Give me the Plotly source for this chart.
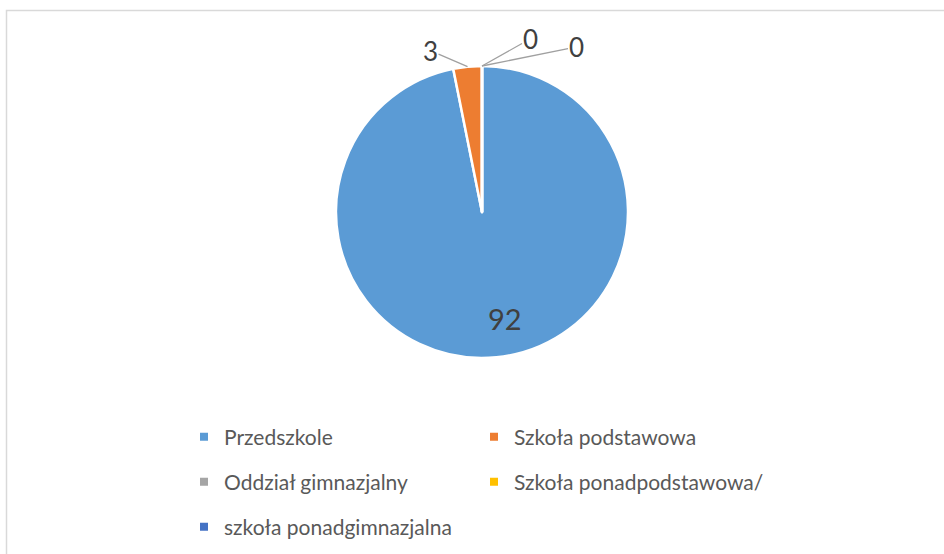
import math
import plotly.graph_objects as go

# Data (last category has no value label)
categories = ['Przedszkole', 'Szkoła podstawowa', 'Oddział gimnazjalny',
              'Szkoła ponadpodstawowa/', 'szkoła ponadgimnazjalna']
values = [92, 3, 0, 0, None]
colors = ['#5B9BD5', '#ED7D31', '#A5A5A5', '#FFC000', '#4472C4']

W, H = 944, 554
FONT = 'Lato, Open Sans, sans-serif'

# pie geometry in pixels
cx, cy, R = 482, 212, 146

pie_vals = [v or 0 for v in values]

fig = go.Figure(go.Pie(
    labels=categories,
    values=pie_vals,
    sort=False,
    direction='clockwise',
    rotation=0,
    marker=dict(colors=colors, line=dict(color='white', width=2.5)),
    textinfo='none',
    domain=dict(x=[(cx - R) / W, (cx + R) / W], y=[1 - (cy + R) / H, 1 - (cy - R) / H]),
    showlegend=False,
    hoverinfo='label+value',
))

# legend entries: two per row, like the original
legend_names = ['legend', 'legend2', 'legend3']
for i, cat in enumerate(categories):
    fig.add_trace(go.Scatter(
        x=[None], y=[None], mode='markers', name=cat,
        marker=dict(symbol='square', size=8, color=colors[i]),
        legend=legend_names[i // 2], hoverinfo='skip',
    ))

row_y = [437, 482, 527]
legend_style = dict(
    orientation='h', x=184 / W, xanchor='left', yanchor='middle',
    entrywidth=245, entrywidthmode='pixels',
    font=dict(family=FONT, size=21, color='#595959'),
    bgcolor='rgba(0,0,0,0)', itemclick=False, itemdoubleclick=False,
)
legends = {name: dict(legend_style, y=1 - ry / H) for name, ry in zip(legend_names, row_y)}

# data labels: value text placed from each slice's angle
label_offsets = {1: (-37, -16), 2: (48, -27), 3: (94, -19)}
annotations = []
total = sum(pie_vals)
cum = 0
for i, v in enumerate(pie_vals):
    mid = math.radians((cum + v / 2) / total * 360)
    cum += v
    if values[i] is None:
        continue
    if i == 0:
        rho = 0.73 * R
        px, py = cx + rho * math.sin(mid), cy - rho * math.cos(mid)
        annotations.append(dict(
            x=px / W, y=1 - py / H, xref='paper', yref='paper',
            text=str(values[i]), showarrow=False, xshift=12,
            font=dict(family=FONT, size=29, color='#404040')))
    else:
        px, py = cx + R * math.sin(mid), cy - R * math.cos(mid)
        ax, ay = label_offsets[i]
        annotations.append(dict(
            x=px / W, y=1 - py / H, xref='paper', yref='paper',
            text=str(values[i]), showarrow=True, arrowhead=0,
            arrowwidth=1.3, arrowcolor='#A0A0A0', standoff=0,
            ax=ax, ay=ay, borderpad=0,
            font=dict(family=FONT, size=26, color='#404040')))

fig.update_layout(
    width=W, height=H,
    margin=dict(l=0, r=0, t=0, b=0),
    paper_bgcolor='white',
    plot_bgcolor='white',
    font=dict(family=FONT, color='#595959'),
    xaxis=dict(visible=False),
    yaxis=dict(visible=False),
    annotations=annotations,
    shapes=[dict(type='rect', xref='paper', yref='paper',
                 x0=6.5 / W, x1=1.02, y0=-0.02, y1=1 - 10.5 / H,
                 line=dict(color='#D9D9D9', width=1.5))],
    **legends,
)

fig.write_html("out.html", config={'displayModeBar': False},
               post_script="document.body.style.margin='0';document.body.style.overflow='hidden';")
